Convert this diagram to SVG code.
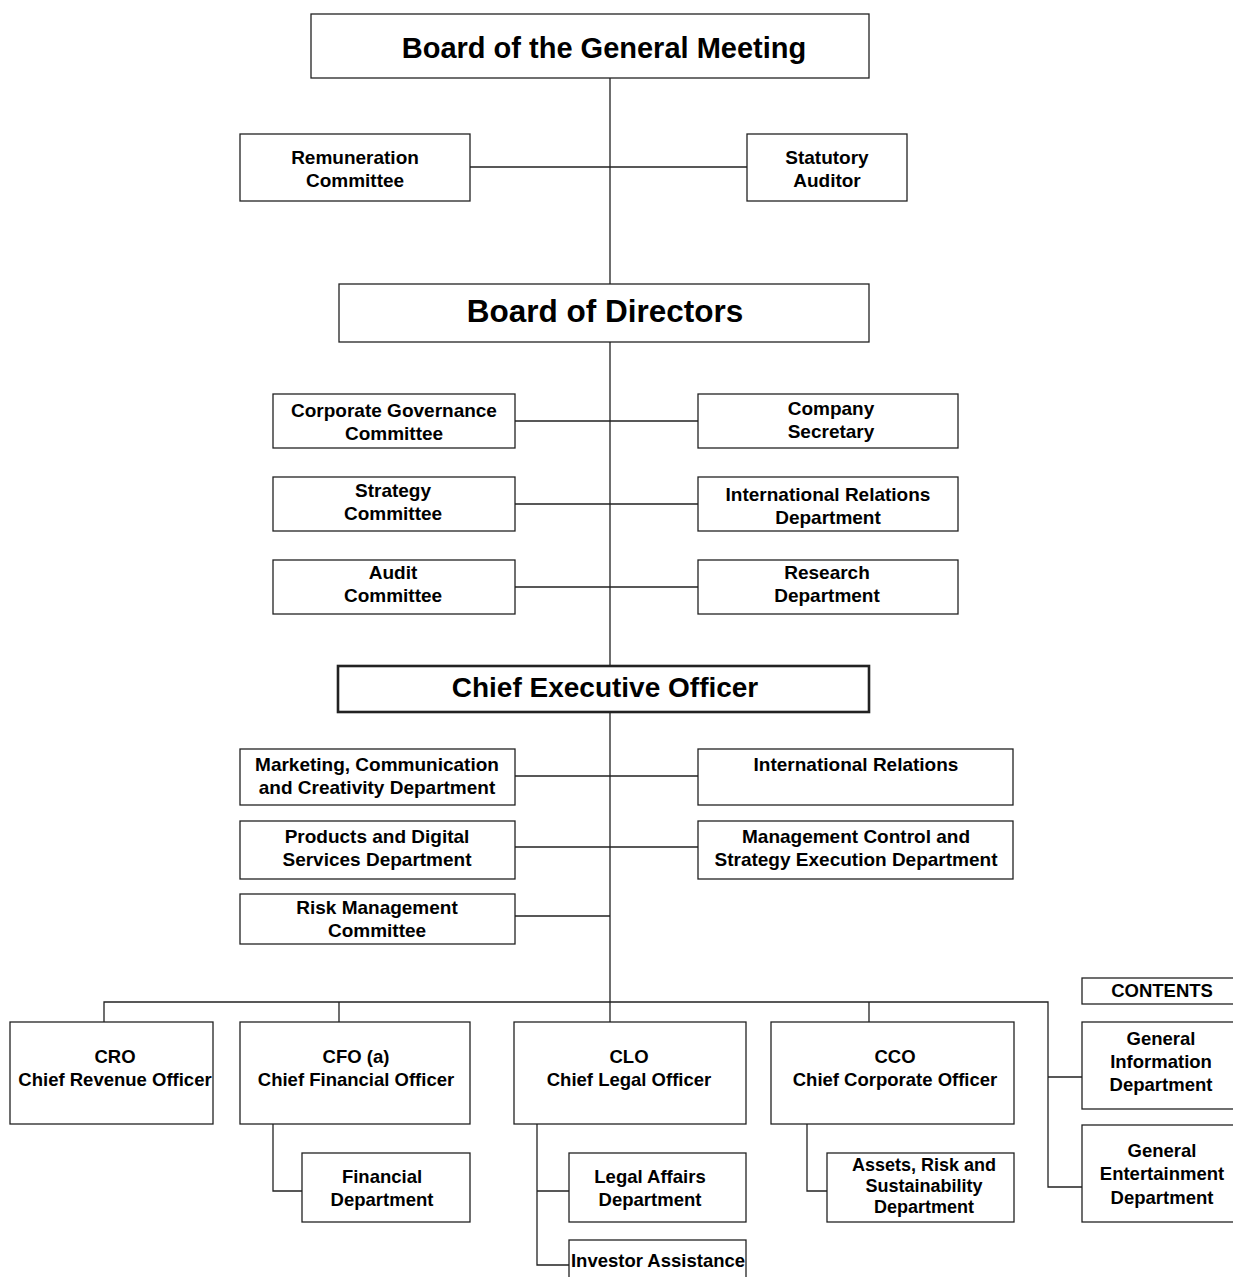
<svg xmlns="http://www.w3.org/2000/svg" width="1233" height="1277" viewBox="0 0 1233 1277">
<style>
rect{fill:#fff;stroke:#222;stroke-width:1.3}
rect.thick{stroke-width:2.6}
text{font-family:"Liberation Sans",Arial,sans-serif;font-weight:bold;font-size:19px;fill:#000;text-anchor:middle}
text.xl{font-size:29px}
text.ceo{font-size:28px}
text.xxl{font-size:31.5px}
text.sm{font-size:18.5px}
text.xs{font-size:18px}
#connectors path{fill:none;stroke:#222;stroke-width:1.3}
</style>
<rect x="0" y="0" width="1233" height="1277" style="fill:#fff;stroke:none"/>
<g id="connectors">
<path d="M610 78V284M470 167H747"/>
<path d="M610 342V666M515 421H698M515 504H698M515 587H698"/>
<path d="M610 712V1022M515 776H698M515 847H698M515 916H610"/>
<path d="M104 1022V1002H1048V1187H1082M339 1002V1022M869 1002V1022M1048 1077H1082"/>
<path d="M273 1124V1191H302"/>
<path d="M537 1124V1265H569M537 1191H569"/>
<path d="M807 1124V1191H827"/>
</g>
<g id="n-gm"><rect x="311" y="14" width="558" height="64"/><text class="xl" x="604" y="58">Board of the General Meeting</text></g>
<g id="n-rem"><rect x="240" y="134" width="230" height="67"/><text x="355" y="164">Remuneration</text><text x="355" y="187">Committee</text></g>
<g id="n-aud"><rect x="747" y="134" width="160" height="67"/><text x="827" y="164">Statutory</text><text x="827" y="187">Auditor</text></g>
<g id="n-bod"><rect x="339" y="284" width="530" height="58"/><text class="xxl" x="605" y="322">Board of Directors</text></g>
<g id="n-cgc"><rect x="273" y="394" width="242" height="54"/><text x="394" y="417">Corporate Governance</text><text x="394" y="440">Committee</text></g>
<g id="n-cs"><rect x="698" y="394" width="260" height="54"/><text x="831" y="415">Company</text><text x="831" y="438">Secretary</text></g>
<g id="n-sc"><rect x="273" y="477" width="242" height="54"/><text x="393" y="497">Strategy</text><text x="393" y="520">Committee</text></g>
<g id="n-ird"><rect x="698" y="477" width="260" height="54"/><text x="828" y="501">International Relations</text><text x="828" y="524">Department</text></g>
<g id="n-ac"><rect x="273" y="560" width="242" height="54"/><text x="393" y="579">Audit</text><text x="393" y="602">Committee</text></g>
<g id="n-rd"><rect x="698" y="560" width="260" height="54"/><text x="827" y="579">Research</text><text x="827" y="602">Department</text></g>
<g id="n-ceo"><rect class="thick" x="338" y="666" width="531" height="46"/><text class="ceo" x="605" y="697">Chief Executive Officer</text></g>
<g id="n-mkt"><rect x="240" y="749" width="275" height="56"/><text x="377" y="771">Marketing, Communication</text><text x="377" y="794">and Creativity Department</text></g>
<g id="n-ir"><rect x="698" y="749" width="315" height="56"/><text x="856" y="771">International Relations</text></g>
<g id="n-pds"><rect x="240" y="821" width="275" height="58"/><text x="377" y="843">Products and Digital</text><text x="377" y="866">Services Department</text></g>
<g id="n-mcs"><rect x="698" y="821" width="315" height="58"/><text x="856" y="843">Management Control and</text><text x="856" y="866">Strategy Execution Department</text></g>
<g id="n-rmc"><rect x="240" y="894" width="275" height="50"/><text x="377" y="914">Risk Management</text><text x="377" y="937">Committee</text></g>
<g id="n-cro"><rect x="10" y="1022" width="203" height="102"/><text class="sm" x="115" y="1063">CRO</text><text class="sm" x="115" y="1086">Chief Revenue Officer</text></g>
<g id="n-cfo"><rect x="240" y="1022" width="230" height="102"/><text class="sm" x="356" y="1063">CFO (a)</text><text class="sm" x="356" y="1086">Chief Financial Officer</text></g>
<g id="n-clo"><rect x="514" y="1022" width="232" height="102"/><text class="sm" x="629" y="1063">CLO</text><text class="sm" x="629" y="1086">Chief Legal Officer</text></g>
<g id="n-cco"><rect x="771" y="1022" width="243" height="102"/><text class="sm" x="895" y="1063">CCO</text><text class="sm" x="895" y="1086">Chief Corporate Officer</text></g>
<g id="n-contents"><rect x="1082" y="978" width="160" height="26"/><text class="sm" x="1162" y="997">CONTENTS</text></g>
<g id="n-gid"><rect x="1082" y="1022" width="160" height="87"/><text class="sm" x="1161" y="1045">General</text><text class="sm" x="1161" y="1068">Information</text><text class="sm" x="1161" y="1091">Department</text></g>
<g id="n-ged"><rect x="1082" y="1125" width="160" height="97"/><text class="sm" x="1162" y="1157">General</text><text class="sm" x="1162" y="1180">Entertainment</text><text class="sm" x="1162" y="1204">Department</text></g>
<g id="n-fd"><rect x="302" y="1153" width="168" height="69"/><text class="sm" x="382" y="1183">Financial</text><text class="sm" x="382" y="1206">Department</text></g>
<g id="n-lad"><rect x="569" y="1153" width="177" height="69"/><text class="sm" x="650" y="1183">Legal Affairs</text><text class="sm" x="650" y="1206">Department</text></g>
<g id="n-ia"><rect x="569" y="1240" width="177" height="50"/><text class="sm" x="658" y="1267">Investor Assistance</text></g>
<g id="n-ars"><rect x="827" y="1153" width="187" height="69"/><text class="xs" x="924" y="1171">Assets, Risk and</text><text class="xs" x="924" y="1192">Sustainability</text><text class="xs" x="924" y="1213">Department</text></g>
</svg>
